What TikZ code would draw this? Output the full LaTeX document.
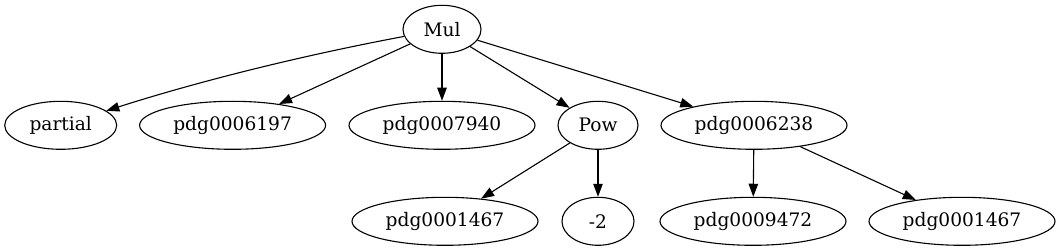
\documentclass[tikz,border=0pt]{standalone}
\usepackage{fontspec}
\setmainfont{DejaVu Serif}
\usetikzlibrary{shapes.geometric,arrows.meta}
\begin{document}
\begin{tikzpicture}[x=1pt,y=-1pt,
  nd/.style={ellipse,draw,line width=1.1pt,inner sep=0pt,minimum height=48pt,
    font=\fontsize{18.6}{22}\selectfont},
  edge/.style={line width=1.1pt,-{Triangle[length=13pt,width=9.5pt]}}]
\useasboundingbox (0,0) rectangle (1060,251);
\node[nd,minimum width=78pt]  (mul)  at (442,29.3) {Mul};
\node[nd,minimum width=112pt] (part) at (60.7,125.3) {partial};
\node[nd,minimum width=186pt] (p6197) at (232.6,125.3) {pdg0006197};
\node[nd,minimum width=186pt] (p7940) at (442,125.3) {pdg0007940};
\node[nd,minimum width=80pt]  (pow)  at (598,125.3) {Pow};
\node[nd,minimum width=186pt] (p6238) at (754,125.3) {pdg0006238};
\node[nd,minimum width=186pt] (p1467a) at (445,221.3) {pdg0001467};
\node[nd,minimum width=72pt]  (m2)   at (598,221.3) {-2};
\node[nd,minimum width=186pt] (p9472) at (753,221.3) {pdg0009472};
\node[nd,minimum width=186pt] (p1467b) at (962,221.3) {pdg0001467};
\draw[edge] (mul) .. controls (305,55) and (203,80) .. (part);
\draw[edge] (mul) -- (p6197);
\draw[edge] (mul) -- (p7940);
\draw[edge] (mul) -- (pow);
\draw[edge] (mul) -- (p6238);
\draw[edge] (pow) -- (p1467a);
\draw[edge] (pow) -- (m2);
\draw[edge] (p6238) -- (p9472);
\draw[edge] (p6238) -- (p1467b);
\end{tikzpicture}
\end{document}
